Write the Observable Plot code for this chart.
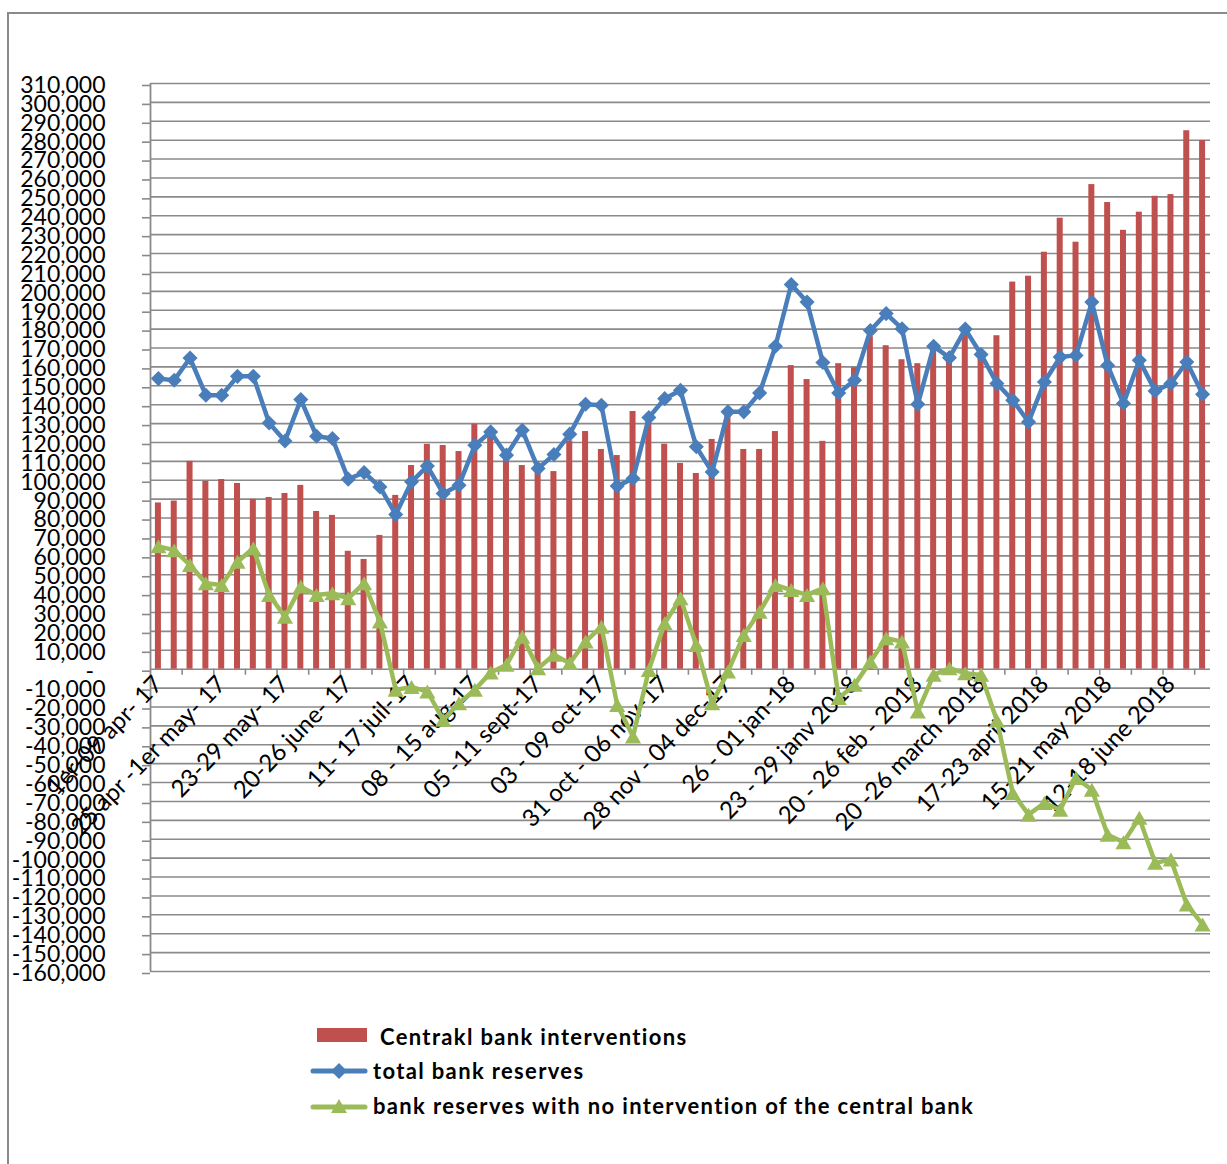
<!DOCTYPE html>
<html><head><meta charset="utf-8">
<script src="https://cdn.jsdelivr.net/npm/d3@7"></script>
<script src="https://cdn.jsdelivr.net/npm/@observablehq/plot@0.6"></script>
<style>
html,body{margin:0;padding:0;background:#fff;overflow:hidden;}
#wrap{position:relative;width:1227px;height:1164px;overflow:hidden;font-family:Lato,"Open Sans",sans-serif;}
#frame{position:absolute;left:7px;top:12px;width:1400px;height:1400px;border:2px solid #8a8a8a;box-sizing:border-box;}
#chart{position:absolute;left:0;top:0;}
.leg{position:absolute;font-weight:bold;font-size:22px;line-height:22px;letter-spacing:1.35px;white-space:nowrap;color:#000;}
.sym{position:absolute;}
</style></head><body>
<div id="wrap"><div id="frame"></div><div id="chart"></div><div id="legend"></div></div>
<script>
// values in thousands
const interventions = [88,89,110,99.4,100.4,98.3,89.9,90.9,93,97.3,83.5,81.4,62.4,58.1,70.8,92,107.8,119,118.4,115.2,129.7,126,111,107.8,105.5,104.6,120.8,125.8,116.3,113.1,136.4,131,119.1,108.9,103.6,121.6,135,116.3,116.3,125.8,160.7,153.3,120.6,161.7,159.6,176,171.2,163.8,161.7,172,164,179,168,176.5,204.9,208,220.7,238.7,226,256.5,247,232.3,241.9,250.3,251.2,285,279.8];
const totalReserves = [153.8,152.9,164.7,145,145,155,155,130.3,120.8,142.7,123.3,122.1,100.6,104.1,96.5,81.9,99.2,107.5,93,97.4,118.5,125.6,113.3,126.5,106.2,113.6,124.4,140.2,139.7,96.9,100.9,133.2,143.2,147.6,117.7,104.4,136.2,136.2,146.2,170.9,203.6,194.3,162.3,146.2,152.9,179.3,188.2,180.2,140.2,170.9,164.9,180,166.6,151.2,142.3,130.9,152,165.2,166.1,194.3,160.8,140.6,163.5,147.3,151.2,162.6,145.5];
const reservesNoIntervention = [65,63,55.1,45.5,44.6,56.9,64,39.3,27.8,43.7,39.3,40.2,37.5,45.5,25.2,-10.9,-9.5,-11.8,-26.8,-18,-10.9,-1.8,2.3,17.2,0.5,7.6,3.2,14.6,22.5,-18.9,-35.6,-0.4,24.3,37.5,12.8,-18,-1.3,18.1,30.4,44.6,41.9,39.3,42.8,-15.3,-8.3,4,16.4,14.6,-22.4,-3,0.5,-2.1,-3,-27.2,-65.5,-77,-70.8,-74.4,-57.6,-63.8,-87.6,-91.6,-78.7,-102.5,-100.8,-124.6,-135.1];
const weekTickLabels = ["1er-09 apr- 17","25 apr -1er may- 17","23-29 may- 17","20-26 june- 17","11- 17 juil-17","08 - 15 aug-17","05 -11 sept-17","03 - 09 oct-17","31 oct - 06 nov-17","28 nov - 04 dec-17","26 - 01 jan-18","23 - 29 janv 2018","20 - 26 feb - 2018","20 -26 march 2018","17-23 april 2018","15-21 may 2018","12-18 june 2018"];
const labelEvery = 4;
const yTicks = d3.range(-160, 311, 10);
const seriesNames = ["Centrakl bank interventions","total bank reserves","bank reserves with no intervention of the central bank"];
const colors = {bar:"#c0504d", total:"#4a7ebb", noint:"#9bbb59", grid:"#8a8a8a"};

const rows = interventions.map((v,i)=>({i, bar:v, total: totalReserves[i], noint: reservesNoIntervention[i]}));
const labelRows = weekTickLabels.map((t,j)=>({i:j*labelEvery, t}));
const tickPos = d3.range(2, interventions.length, 2).map(k=>k-0.5);
const fmt = d => d===0 ? "-\u2002" : (d<0?"-":"") + d3.format(",")(Math.abs(d)*1000);

const chart = Plot.plot({
  width:1227, height:1000, marginLeft:150, marginRight:17, marginTop:83, marginBottom:29,
  style:{fontFamily:"Lato, sans-serif", fontSize:"23px", color:"#000", background:"transparent", overflow:"visible"},
  x:{type:"linear", domain:[-0.5, interventions.length-0.5], axis:null},
  y:{domain:[-160,310], axis:null},
  marks:[
    Plot.ruleY(yTicks,{stroke:colors.grid, strokeWidth:1.6}),
    Plot.axisY({ticks:yTicks, tickSize:8, tickPadding:37, tickFormat:fmt, fontSize:23, stroke:colors.grid, strokeWidth:1.6, strokeOpacity:1, dy:2, fill:"#000"}),
    Plot.ruleX([-0.5],{stroke:colors.grid, strokeWidth:1.8}),
    Plot.ruleX(tickPos,{y1:0, y2:-3.2, stroke:colors.grid, strokeWidth:1.6}),
    Plot.rectY(rows,{x1:d=>d.i-0.19, x2:d=>d.i+0.19, y1:0, y2:"bar", fill:colors.bar}),
    Plot.text(labelRows,{x:"i", y:0, text:"t", rotate:-46, textAnchor:"end", lineAnchor:"middle", dx:0, dy:11, fontSize:24, fill:"#000"}),
    Plot.line(rows,{x:"i", y:"total", stroke:colors.total, strokeWidth:4.5, strokeLinejoin:"round"}),
    Plot.dot(rows,{x:"i", y:"total", symbol:"diamond2", r:6.8, fill:colors.total, stroke:"none"}),
    Plot.line(rows,{x:"i", y:"noint", stroke:colors.noint, strokeWidth:4.5, strokeLinejoin:"round"}),
    Plot.dot(rows,{x:"i", y:"noint", symbol:"triangle", r:6, fill:colors.noint, stroke:"none", dy:2.3})
  ]
});
document.getElementById("chart").appendChild(chart);

const leg = document.getElementById("legend");
leg.innerHTML = `
<div class="sym" style="left:317px;top:1028px;width:50px;height:14px;background:${colors.bar}"></div>
<div class="leg" style="left:380px;top:1026px">${seriesNames[0]}</div>
<svg class="sym" style="left:308px;top:1060px" width="62" height="22"><line x1="5" x2="57" y1="11" y2="11" stroke="${colors.total}" stroke-width="5" stroke-linecap="round"/><path d="M31,3 L39,11 L31,19 L23,11Z" fill="${colors.total}"/></svg>
<div class="leg" style="left:373px;top:1060px">${seriesNames[1]}</div>
<svg class="sym" style="left:308px;top:1096px" width="62" height="22"><line x1="5" x2="57" y1="11" y2="11" stroke="${colors.noint}" stroke-width="5" stroke-linecap="round"/><path d="M31,3 L39,17 L23,17Z" fill="${colors.noint}"/></svg>
<div class="leg" style="left:373px;top:1095px">${seriesNames[2]}</div>`;
</script>
</body></html>
